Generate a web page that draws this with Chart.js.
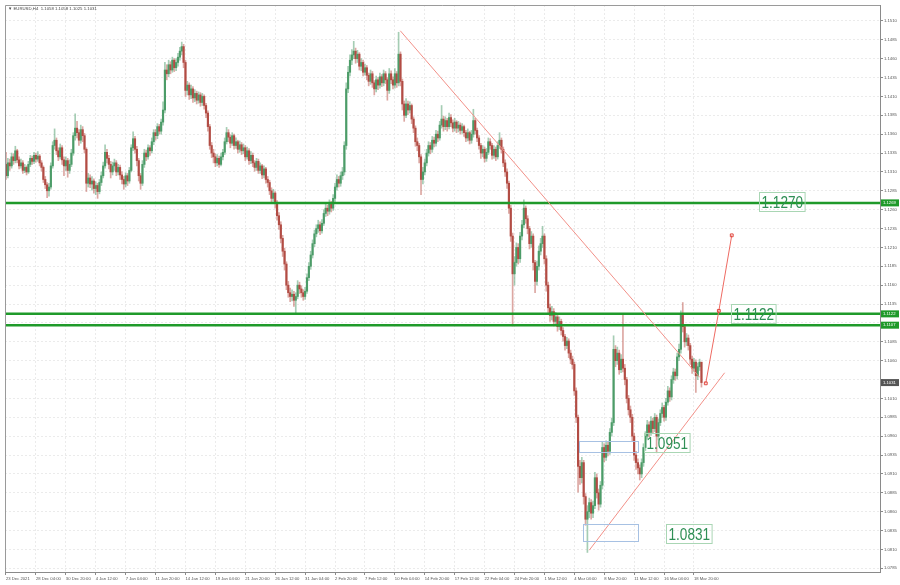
<!DOCTYPE html>
<html>
<head>
<meta charset="utf-8">
<script src="https://cdn.jsdelivr.net/npm/chart.js@4.4.1/dist/chart.umd.min.js"></script>
<style>
  html, body { margin: 0; padding: 0; background: #fff; }
</style>
</head>
<body>
<canvas id="chart" width="900" height="585"></canvas>
<script>
const symbol = 'EURUSD,H4';
const tickEvery = 16;
const tickLabels = ['23 Dec 2021', '28 Dec 04:00', '30 Dec 20:00', '4 Jan 12:00', '7 Jan 04:00', '11 Jan 20:00',
  '14 Jan 12:00', '19 Jan 04:00', '21 Jan 20:00', '26 Jan 12:00', '31 Jan 04:00', '2 Feb 20:00',
  '7 Feb 12:00', '10 Feb 04:00', '14 Feb 20:00', '17 Feb 12:00', '22 Feb 04:00', '24 Feb 20:00',
  '1 Mar 12:00', '4 Mar 04:00', '8 Mar 20:00', '11 Mar 12:00', '16 Mar 04:00', '18 Mar 20:00'];
const priceTicks = [1.0785, 1.0810, 1.0835, 1.0860, 1.0885, 1.0910, 1.0935, 1.0960, 1.0985, 1.1010,
  1.1035, 1.1060, 1.1085, 1.1110, 1.1135, 1.1160, 1.1185, 1.1210, 1.1235, 1.1260,
  1.1285, 1.1310, 1.1335, 1.1360, 1.1385, 1.1410, 1.1435, 1.1460, 1.1485, 1.1510];

// H4 candles, open of each bar = previous close
const firstOpen = 1.1320;
const closes = [
  1.1305, 1.1322, 1.1318, 1.1330, 1.1325, 1.1338, 1.1326, 1.1318, 1.1322, 1.1312,
  1.1316, 1.1310, 1.1320, 1.1328, 1.1324, 1.1332, 1.1327, 1.1331, 1.1322, 1.1316,
  1.1300, 1.1293, 1.1285, 1.1290, 1.1318, 1.1345, 1.1352, 1.1338, 1.1330, 1.1342,
  1.1326, 1.1318, 1.1325, 1.1312, 1.1320, 1.1335, 1.1358, 1.1368, 1.1362, 1.1352,
  1.1366, 1.1358, 1.1340, 1.1295, 1.1302, 1.1294, 1.1298, 1.1288, 1.1292, 1.1284,
  1.1296, 1.1305, 1.1318, 1.1336, 1.1328, 1.1320, 1.1310, 1.1318, 1.1322, 1.1310,
  1.1316, 1.1306, 1.1300, 1.1294, 1.1305, 1.1298, 1.1312, 1.1342, 1.1354, 1.1340,
  1.1325, 1.1305, 1.1295, 1.1320, 1.1335, 1.1330, 1.1342, 1.1338, 1.1350, 1.1362,
  1.1358, 1.1370, 1.1364, 1.1376, 1.1392, 1.1445, 1.1440, 1.1452, 1.1445, 1.1458,
  1.1448, 1.1455, 1.1462, 1.1470, 1.1476, 1.1455, 1.1418, 1.1425, 1.1412, 1.1420,
  1.1408, 1.1414, 1.1405, 1.1412, 1.1402, 1.1410, 1.1398, 1.1388, 1.1370, 1.1345,
  1.1335, 1.1330, 1.1322, 1.1328, 1.1320, 1.1330, 1.1336, 1.1350, 1.1362, 1.1356,
  1.1348, 1.1358, 1.1345, 1.1350, 1.1340, 1.1346, 1.1338, 1.1342, 1.1330, 1.1338,
  1.1325, 1.1332, 1.1322, 1.1316, 1.1324, 1.1312, 1.1318, 1.1306, 1.1314, 1.1300,
  1.1296, 1.1285, 1.1275, 1.1282, 1.1268, 1.1252, 1.1240, 1.1222, 1.1205, 1.1188,
  1.1160, 1.1150, 1.1145, 1.1148, 1.1140, 1.1145, 1.1160, 1.1155, 1.1150, 1.1145,
  1.1152, 1.1170, 1.1185, 1.1200, 1.1215, 1.1228, 1.1235, 1.1240, 1.1232, 1.1242,
  1.1255, 1.1262, 1.1258, 1.1268, 1.1262, 1.1275, 1.1290, 1.1300, 1.1295, 1.1305,
  1.1310, 1.1345, 1.1420, 1.1442, 1.1458, 1.1465, 1.1470, 1.1460, 1.1466, 1.1450,
  1.1455, 1.1442, 1.1448, 1.1438, 1.1430, 1.1440, 1.1428, 1.1420, 1.1432, 1.1425,
  1.1436, 1.1428, 1.1440, 1.1432, 1.1418, 1.1440, 1.1432, 1.1425, 1.1440, 1.1428,
  1.1466, 1.1430, 1.1400, 1.1385, 1.1400, 1.1392, 1.1398, 1.1380, 1.1368, 1.1350,
  1.1345, 1.1330, 1.1300, 1.1310, 1.1322, 1.1335, 1.1345, 1.1340, 1.1352, 1.1348,
  1.1360, 1.1355, 1.1372, 1.1380, 1.1370, 1.1378, 1.1370, 1.1382, 1.1375, 1.1368,
  1.1376, 1.1368, 1.1372, 1.1365, 1.1370, 1.1362, 1.1355, 1.1362, 1.1352, 1.1360,
  1.1378, 1.1365, 1.1355, 1.1345, 1.1335, 1.1340, 1.1328, 1.1336, 1.1350, 1.1345,
  1.1332, 1.1340, 1.1330, 1.1345, 1.1352, 1.1340, 1.1322, 1.1310, 1.1295, 1.1262,
  1.1225, 1.1175, 1.1190, 1.1210, 1.1195, 1.1225, 1.1240, 1.1262, 1.1248, 1.1235,
  1.1215, 1.1225, 1.1190, 1.1165, 1.1185, 1.1205, 1.1215, 1.1225, 1.1195, 1.1160,
  1.1130, 1.1120, 1.1125, 1.1112, 1.1118, 1.1105, 1.1112, 1.1100, 1.1092, 1.1080,
  1.1086, 1.1070, 1.1062, 1.1055, 1.1020, 1.0985, 1.0920, 1.0905, 1.0925, 1.0880,
  1.0850, 1.0860, 1.0872, 1.0858, 1.0868, 1.0905, 1.0885, 1.0870, 1.0895, 1.0945,
  1.0932, 1.0948, 1.0940, 1.0965, 1.0978, 1.1075, 1.1060, 1.1070, 1.1048, 1.1062,
  1.1050, 1.1035, 1.1010, 1.0995, 1.0985, 1.0960, 1.0935, 1.0925, 1.0918, 1.0910,
  1.0925, 1.0945, 1.0960, 1.0975, 1.0965, 1.0980, 1.0970, 1.0985, 1.0960, 1.0978,
  1.0990, 1.0998, 1.0985, 1.1005, 1.1020, 1.1012, 1.1035, 1.1045, 1.1040, 1.1065,
  1.1075, 1.1120, 1.1105, 1.1085, 1.1090, 1.1080, 1.1062, 1.1050, 1.1058, 1.1040,
  1.1052, 1.1058, 1.1031];
const highs = [
  1.1336, 1.1328, 1.1327, 1.1335, 1.1334, 1.1344, 1.1340, 1.1330, 1.1327, 1.1325,
  1.1320, 1.1318, 1.1324, 1.1332, 1.1331, 1.1336, 1.1335, 1.1337, 1.1333, 1.1325,
  1.1318, 1.1304, 1.1296, 1.1295, 1.1322, 1.1350, 1.1367, 1.1355, 1.1342, 1.1347,
  1.1345, 1.1330, 1.1330, 1.1328, 1.1326, 1.1340, 1.1362, 1.1387, 1.1377, 1.1366,
  1.1372, 1.1370, 1.1361, 1.1342, 1.1308, 1.1306, 1.1304, 1.1301, 1.1297, 1.1295,
  1.1300, 1.1310, 1.1323, 1.1346, 1.1340, 1.1332, 1.1324, 1.1323, 1.1327, 1.1325,
  1.1320, 1.1319, 1.1310, 1.1304, 1.1309, 1.1308, 1.1316, 1.1346, 1.1363, 1.1357,
  1.1344, 1.1328, 1.1308, 1.1325, 1.1340, 1.1339, 1.1346, 1.1345, 1.1355, 1.1366,
  1.1366, 1.1374, 1.1373, 1.1380, 1.1403, 1.1455, 1.1452, 1.1458, 1.1456, 1.1462,
  1.1460, 1.1460, 1.1467, 1.1475, 1.1482, 1.1479, 1.1458, 1.1430, 1.1428, 1.1425,
  1.1423, 1.1419, 1.1417, 1.1416, 1.1415, 1.1414, 1.1412, 1.1401, 1.1391, 1.1373,
  1.1349, 1.1340, 1.1334, 1.1333, 1.1331, 1.1335, 1.1340, 1.1355, 1.1369, 1.1366,
  1.1359, 1.1362, 1.1360, 1.1355, 1.1352, 1.1351, 1.1349, 1.1347, 1.1345, 1.1343,
  1.1341, 1.1337, 1.1335, 1.1325, 1.1328, 1.1327, 1.1322, 1.1320, 1.1318, 1.1316,
  1.1304, 1.1299, 1.1289, 1.1287, 1.1284, 1.1272, 1.1256, 1.1244, 1.1226, 1.1209,
  1.1191, 1.1165, 1.1156, 1.1154, 1.1152, 1.1150, 1.1166, 1.1164, 1.1159, 1.1154,
  1.1157, 1.1175, 1.1190, 1.1205, 1.1220, 1.1233, 1.1240, 1.1246, 1.1244, 1.1247,
  1.1260, 1.1267, 1.1266, 1.1273, 1.1271, 1.1280, 1.1295, 1.1306, 1.1304, 1.1310,
  1.1316, 1.1350, 1.1428, 1.1450, 1.1465, 1.1472, 1.1483, 1.1474, 1.1471, 1.1468,
  1.1460, 1.1458, 1.1453, 1.1451, 1.1441, 1.1445, 1.1443, 1.1431, 1.1437, 1.1435,
  1.1441, 1.1439, 1.1445, 1.1443, 1.1435, 1.1447, 1.1444, 1.1436, 1.1447, 1.1443,
  1.1495, 1.1469, 1.1433, 1.1404, 1.1407, 1.1404, 1.1403, 1.1400, 1.1383, 1.1371,
  1.1355, 1.1348, 1.1333, 1.1316, 1.1327, 1.1340, 1.1350, 1.1349, 1.1357, 1.1356,
  1.1365, 1.1364, 1.1377, 1.1398, 1.1384, 1.1383, 1.1381, 1.1388, 1.1386, 1.1379,
  1.1381, 1.1378, 1.1377, 1.1375, 1.1374, 1.1372, 1.1365, 1.1367, 1.1364, 1.1365,
  1.1393, 1.1381, 1.1368, 1.1358, 1.1348, 1.1345, 1.1343, 1.1341, 1.1355, 1.1354,
  1.1348, 1.1345, 1.1343, 1.1350, 1.1362, 1.1355, 1.1343, 1.1326, 1.1314, 1.1298,
  1.1266, 1.1229, 1.1198, 1.1216, 1.1215, 1.1230, 1.1246, 1.1273, 1.1265, 1.1252,
  1.1238, 1.1231, 1.1228, 1.1193, 1.1192, 1.1212, 1.1222, 1.1238, 1.1228, 1.1199,
  1.1164, 1.1135, 1.1132, 1.1129, 1.1124, 1.1121, 1.1118, 1.1115, 1.1104, 1.1095,
  1.1091, 1.1089, 1.1074, 1.1066, 1.1058, 1.1024, 1.0988, 1.0928, 1.0932, 1.0928,
  1.0884, 1.0868, 1.0878, 1.0876, 1.0874, 1.0912, 1.0910, 1.0890, 1.0900, 1.0952,
  1.0950, 1.0954, 1.0952, 1.0970, 1.0984, 1.1093, 1.1080, 1.1078, 1.1074, 1.1068,
  1.1121, 1.1055, 1.1038, 1.1014, 1.1000, 1.0989, 1.0964, 1.0940, 1.0930, 1.0922,
  1.0930, 1.0950, 1.0966, 1.0981, 1.0979, 1.0986, 1.0984, 1.0990, 1.0988, 1.0983,
  1.0995, 1.1004, 1.1001, 1.1010, 1.1026, 1.1024, 1.1040, 1.1050, 1.1049, 1.1070,
  1.1082, 1.1126, 1.1137, 1.1108, 1.1096, 1.1094, 1.1083, 1.1066, 1.1063, 1.1061,
  1.1057, 1.1062, 1.1058];
const lows = [
  1.1300, 1.1302, 1.1312, 1.1315, 1.1320, 1.1322, 1.1322, 1.1314, 1.1315, 1.1308,
  1.1309, 1.1306, 1.1308, 1.1317, 1.1320, 1.1321, 1.1323, 1.1324, 1.1318, 1.1311,
  1.1296, 1.1288, 1.1276, 1.1278, 1.1287, 1.1315, 1.1340, 1.1333, 1.1325, 1.1327,
  1.1320, 1.1305, 1.1312, 1.1303, 1.1308, 1.1317, 1.1332, 1.1352, 1.1355, 1.1345,
  1.1348, 1.1350, 1.1335, 1.1284, 1.1290, 1.1289, 1.1286, 1.1282, 1.1280, 1.1275,
  1.1281, 1.1292, 1.1302, 1.1315, 1.1322, 1.1314, 1.1302, 1.1306, 1.1312, 1.1305,
  1.1306, 1.1300, 1.1294, 1.1287, 1.1290, 1.1292, 1.1295, 1.1310, 1.1338, 1.1335,
  1.1318, 1.1298, 1.1287, 1.1292, 1.1316, 1.1325, 1.1327, 1.1332, 1.1335, 1.1346,
  1.1352, 1.1354, 1.1360, 1.1360, 1.1372, 1.1388, 1.1432, 1.1436, 1.1440, 1.1442,
  1.1443, 1.1444, 1.1450, 1.1458, 1.1465, 1.1448, 1.1410, 1.1412, 1.1406, 1.1407,
  1.1402, 1.1403, 1.1400, 1.1401, 1.1397, 1.1398, 1.1393, 1.1382, 1.1364, 1.1340,
  1.1329, 1.1322, 1.1317, 1.1318, 1.1316, 1.1318, 1.1326, 1.1333, 1.1347, 1.1350,
  1.1342, 1.1345, 1.1340, 1.1341, 1.1335, 1.1336, 1.1333, 1.1334, 1.1325, 1.1327,
  1.1320, 1.1321, 1.1317, 1.1311, 1.1312, 1.1308, 1.1308, 1.1301, 1.1302, 1.1295,
  1.1290, 1.1280, 1.1270, 1.1271, 1.1262, 1.1246, 1.1234, 1.1216, 1.1198, 1.1180,
  1.1154, 1.1144, 1.1138, 1.1139, 1.1132, 1.1122, 1.1142, 1.1149, 1.1144, 1.1140,
  1.1141, 1.1149, 1.1166, 1.1181, 1.1196, 1.1211, 1.1224, 1.1230, 1.1227, 1.1229,
  1.1239, 1.1251, 1.1252, 1.1254, 1.1257, 1.1259, 1.1271, 1.1286, 1.1290, 1.1291,
  1.1300, 1.1306, 1.1340, 1.1415, 1.1437, 1.1452, 1.1460, 1.1454, 1.1455, 1.1445,
  1.1444, 1.1437, 1.1438, 1.1432, 1.1424, 1.1426, 1.1422, 1.1412, 1.1416, 1.1419,
  1.1421, 1.1423, 1.1424, 1.1427, 1.1405, 1.1414, 1.1427, 1.1420, 1.1421, 1.1422,
  1.1424, 1.1424, 1.1392, 1.1377, 1.1382, 1.1386, 1.1388, 1.1374, 1.1362, 1.1344,
  1.1338, 1.1322, 1.1280, 1.1294, 1.1306, 1.1318, 1.1331, 1.1334, 1.1336, 1.1343,
  1.1344, 1.1350, 1.1352, 1.1368, 1.1364, 1.1366, 1.1364, 1.1367, 1.1370, 1.1363,
  1.1364, 1.1362, 1.1363, 1.1360, 1.1361, 1.1357, 1.1350, 1.1351, 1.1347, 1.1348,
  1.1356, 1.1360, 1.1350, 1.1340, 1.1328, 1.1330, 1.1323, 1.1324, 1.1333, 1.1340,
  1.1327, 1.1328, 1.1325, 1.1327, 1.1341, 1.1335, 1.1317, 1.1304, 1.1288, 1.1255,
  1.1218, 1.1106, 1.1160, 1.1185, 1.1188, 1.1190, 1.1220, 1.1236, 1.1242, 1.1228,
  1.1208, 1.1210, 1.1180, 1.1150, 1.1160, 1.1180, 1.1200, 1.1210, 1.1188, 1.1152,
  1.1122, 1.1112, 1.1114, 1.1106, 1.1107, 1.1099, 1.1101, 1.1094, 1.1086, 1.1074,
  1.1076, 1.1064, 1.1056, 1.1049, 1.1014, 1.0978, 1.0886, 1.0896, 1.0898, 1.0870,
  1.0842, 1.0806, 1.0852, 1.0850, 1.0852, 1.0864, 1.0878, 1.0862, 1.0866, 1.0890,
  1.0926, 1.0928, 1.0934, 1.0936, 1.0960, 1.0974, 1.1052, 1.1055, 1.1042, 1.1044,
  1.1045, 1.1028, 1.1004, 1.0988, 1.0978, 1.0953, 1.0928, 1.0916, 1.0910, 1.0902,
  1.0905, 1.0920, 1.0941, 1.0956, 1.0959, 1.0961, 1.0964, 1.0966, 1.0938, 1.0955,
  1.0974, 1.0985, 1.0980, 1.0981, 1.1001, 1.1006, 1.1008, 1.1030, 1.1034, 1.1036,
  1.1060, 1.1070, 1.1098, 1.1078, 1.1080, 1.1074, 1.1055, 1.1043, 1.1045, 1.1018,
  1.1035, 1.1047, 1.1025];

// drawn objects, in [bar index, price]
const levels = [1.1269, 1.1122, 1.1107];
const downTrend = [[210.9, 1.1497], [371, 1.1038]];
const upTrend = [[312, 1.0809], [384.4, 1.1044]];
const projection = [[374.3, 1.1030], [381.3, 1.1126], [388.2, 1.1226]];
const noteTexts = ['1.1270', '1.1122', '1.0951', '1.0831'];
const noteBars = [402.6, 387.6, 341.3, 353];
const zones = [[306.7, 338.1, 1.0954, 1.0939], [308.8, 338.1, 1.0844, 1.0821]];

const xMin = -0.53, xMax = 467.5;
const yMin = 1.07801, yMax = 1.15311;

const opens = closes.map((c, i) => i === 0 ? firstOpen : closes[i - 1]);
const isUp = i => closes[i] >= opens[i];
const last = closes.length - 1;

const tickFont = { family: 'Liberation Sans', size: 4.2 };

const mtDecor = {
  id: 'mtDecor',
  afterDatasetsDraw(chart) {
    const { ctx, chartArea: a } = chart;
    const xs = chart.scales.x, ys = chart.scales.y;
    ctx.save();
    // zones
    ctx.strokeStyle = '#a7c1e3';
    ctx.lineWidth = 1;
    zones.forEach(([i0, i1, hi, lo]) => {
      const x0 = Math.round(xs.getPixelForValue(i0)) + 0.5;
      const x1 = Math.round(xs.getPixelForValue(i1)) + 0.5;
      const y0 = Math.round(ys.getPixelForValue(hi)) + 0.5;
      const y1 = Math.round(ys.getPixelForValue(lo)) + 0.5;
      ctx.strokeRect(x0, y0, x1 - x0, y1 - y0);
    });
    // text notes (narrow look)
    const squeeze = 0.8;
    ctx.font = '17px "Liberation Sans", sans-serif';
    ctx.textBaseline = 'middle';
    noteTexts.forEach((t, k) => {
      const w = ctx.measureText(t).width * squeeze;
      const x0 = Math.round(xs.getPixelForValue(noteBars[k])) + 0.5;
      const yc = Math.round(ys.getPixelForValue(parseFloat(t)));
      ctx.strokeStyle = '#a9d6b4';
      ctx.strokeRect(x0, yc - 9.5, w + 4, 19);
      ctx.save();
      ctx.translate(x0 + 2, yc + 1);
      ctx.scale(squeeze, 1);
      ctx.fillStyle = '#2f8f55';
      ctx.fillText(t, 0, 0);
      ctx.restore();
    });
    // frame
    ctx.strokeStyle = '#9a9a9a';
    ctx.beginPath();
    ctx.moveTo(a.left + 0.5, a.bottom);
    ctx.lineTo(a.left + 0.5, a.top + 0.5);
    ctx.lineTo(a.right, a.top + 0.5);
    ctx.stroke();
    ctx.restore();
  },
  afterDraw(chart) {
    const { ctx, chartArea: a } = chart;
    const ys = chart.scales.y;
    ctx.save();
    ctx.font = '4.2px "Liberation Sans"';
    ctx.textBaseline = 'middle';
    const tag = (price, color) => {
      const y = ys.getPixelForValue(price);
      ctx.fillStyle = color;
      ctx.fillRect(a.right + 1, y - 3.5, 18, 7);
      ctx.fillStyle = '#fff';
      ctx.fillText(price.toFixed(4), a.right + 3, y);
    };
    levels.forEach(l => tag(l, '#1f9a2a'));
    tag(closes[last], '#555');
    // title
    ctx.fillStyle = '#444';
    ctx.font = '4.3px "Liberation Sans", "DejaVu Sans"';
    const t = '\u25BC ' + symbol + '  ' + [opens[last], highs[last], lows[last], closes[last]].map(v => v.toFixed(4)).join(' ');
    ctx.fillText(t, a.left + 3, a.top + 4);
    ctx.restore();
  }
};

const lineSet = (pts, color, extra) => Object.assign({
  type: 'line',
  data: pts.map(([x, y]) => ({ x, y })),
  borderColor: color,
  borderWidth: 1,
  pointRadius: 0,
  order: 0
}, extra || {});

const datasets = [
  {
    type: 'bar',
    data: closes.map((c, i) => ({ x: i, y: [lows[i], highs[i]] })),
    backgroundColor: ctx => isUp(ctx.dataIndex) ? 'rgba(75,155,105,0.5)' : 'rgba(185,80,70,0.5)',
    barThickness: 1,
    grouped: false,
    order: 3
  },
  {
    type: 'bar',
    data: closes.map((c, i) => ({ x: i, y: [opens[i], c] })),
    backgroundColor: ctx => isUp(ctx.dataIndex) ? '#4c9c68' : '#b24c44',
    barThickness: 1.5,
    minBarLength: 1,
    grouped: false,
    order: 2
  },
  ...levels.map(l => lineSet([[xMin, l], [xMax, l]], '#1f9a2a', { borderWidth: 2.5, order: 1 })),
  lineSet(downTrend, '#f29088'),
  lineSet(upTrend, '#f29088'),
  lineSet(projection, '#ee6a62', {
    pointRadius: 2, pointStyle: 'rect',
    pointBorderColor: '#e0463e', pointBackgroundColor: 'rgba(255,255,255,0)', pointBorderWidth: 1
  })
];

new Chart(document.getElementById('chart'), {
  type: 'bar',
  data: { datasets },
  plugins: [mtDecor],
  options: {
    responsive: false,
    animation: false,
    devicePixelRatio: 1,
    layout: { padding: { left: 1, top: 3, right: 0, bottom: 0 } },
    plugins: { legend: { display: false }, tooltip: { enabled: false } },
    scales: {
      x: {
        type: 'linear',
        min: xMin, max: xMax,
        offset: false,
        bounds: 'data',
        afterFit: s => { s.height = 13; },
        afterBuildTicks: s => { s.ticks = tickLabels.map((t, k) => ({ value: k * tickEvery })); },
        grid: { offset: false, color: '#ebebeb', tickColor: '#8a8a8a', tickLength: 3 },
        border: { color: '#8a8a8a', dash: [2, 2] },
        ticks: {
          autoSkip: false, maxRotation: 0, minRotation: 0,
          align: 'start', padding: 1,
          color: '#555', font: tickFont,
          callback: (v, idx) => tickLabels[idx]
        }
      },
      y: {
        type: 'linear',
        position: 'right',
        min: yMin, max: yMax,
        beginAtZero: false,
        bounds: 'data',
        afterFit: s => { s.width = 20; },
        afterBuildTicks: s => { s.ticks = priceTicks.map(v => ({ value: v })); },
        grid: { color: '#ebebeb', tickColor: '#8a8a8a', tickLength: 3 },
        border: { color: '#8a8a8a', dash: [2, 2] },
        ticks: {
          padding: 1,
          color: '#555', font: tickFont,
          callback: v => [...levels, closes[last]].some(l => Math.abs(l - v) < 0.0007) ? '' : v.toFixed(4)
        }
      }
    }
  }
});
</script>
</body>
</html>
